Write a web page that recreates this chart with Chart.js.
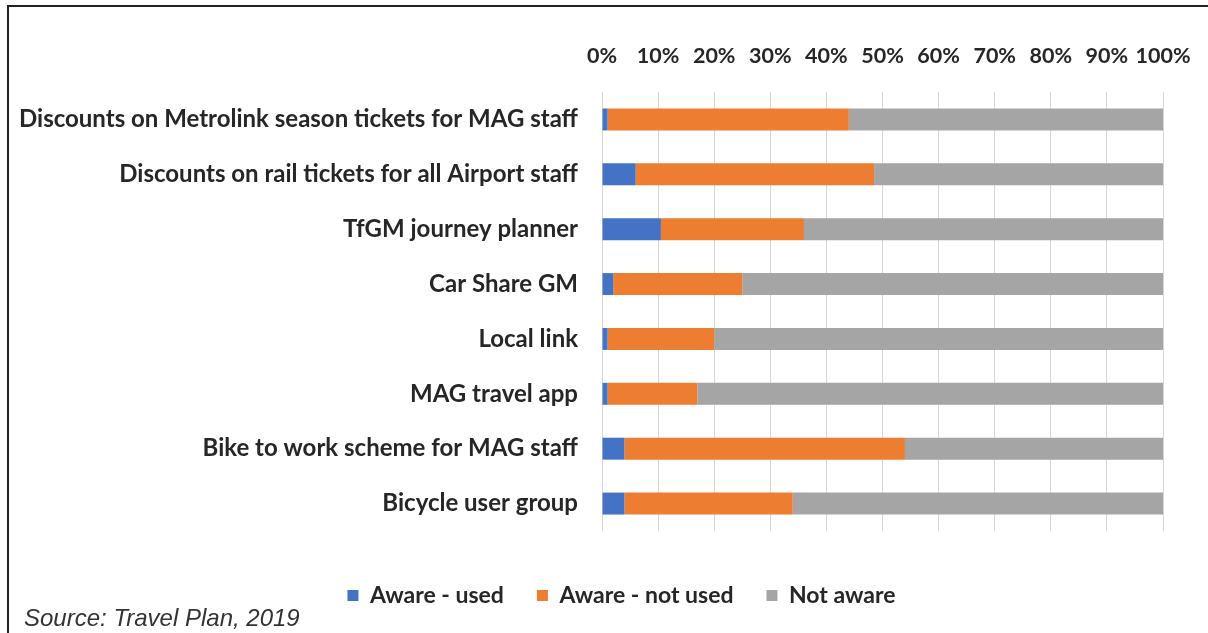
<!DOCTYPE html>
<html>
<head>
<meta charset="utf-8">
<script src="https://cdn.jsdelivr.net/npm/chart.js@4.4.1/dist/chart.umd.min.js"></script>
<style>
  html, body { margin: 0; padding: 0; background: #fff; }
  #wrap { position: relative; width: 1208px; height: 633px; overflow: hidden; background: #fff; }
  #c { position: absolute; left: 0; top: 0; }
  .line { position: absolute; background: #222; }
  #source { position: absolute; left: 24px; top: 606px; font: italic 24px "Liberation Sans", Arial, sans-serif; line-height: 1; color: #333; white-space: nowrap; }
</style>
</head>
<body>
<div id="wrap">
  <div class="line" style="left:7px;top:5px;width:1201px;height:2px;"></div>
  <div class="line" style="left:7px;top:5px;width:2px;height:628px;"></div>
  <canvas id="c" width="1208" height="633"></canvas>
  <div id="source">Source: Travel Plan, 2019</div>
</div>
<script>
const categories = [
  "Discounts on Metrolink season tickets for MAG staff",
  "Discounts on rail tickets for all Airport staff",
  "TfGM journey planner",
  "Car Share GM",
  "Local link",
  "MAG travel app",
  "Bike to work scheme for MAG staff",
  "Bicycle user group"
];
const awareUsed    = [1, 6, 10.5, 2, 1, 1, 4, 4];
const awareNotUsed = [43, 42.5, 25.5, 23, 19, 16, 50, 30];
const notAware     = [56, 51.5, 64, 75, 80, 83, 46, 66];
const tickValues = [0, 10, 20, 30, 40, 50, 60, 70, 80, 90, 100];

const TXT = '#262626';
Chart.defaults.font.family = 'Lato';
Chart.defaults.color = TXT;

// shift the legend so it is centred where the reference places it
const legendShift = {
  id: 'legendShift',
  afterLayout(chart) {
    const l = chart.legend;
    if (l) { l.left += 40; l.right += 40; }
  }
};

new Chart(document.getElementById('c'), {
  type: 'bar',
  data: {
    labels: categories,
    datasets: [
      { label: 'Aware - used', data: awareUsed, backgroundColor: '#4472C4' },
      { label: 'Aware - not used', data: awareNotUsed, backgroundColor: '#ED7D31' },
      { label: 'Not aware', data: notAware, backgroundColor: '#A5A5A5' }
    ]
  },
  plugins: [legendShift],
  options: {
    indexAxis: 'y',
    responsive: false,
    animation: false,
    devicePixelRatio: 1,
    layout: { padding: { top: 40, right: 45, bottom: 16, left: 0 } },
    datasets: { bar: { categoryPercentage: 0.8, barPercentage: 0.5 } },
    scales: {
      x: {
        position: 'top',
        stacked: true,
        min: 0, max: 100,
        afterBuildTicks: (s) => { s.ticks = tickValues.map(v => ({ value: v })); },
        afterFit: (s) => { s.height = 52; s.paddingRight = 0; s.paddingLeft = 0; },
        grid: { color: '#d6d6d6', drawTicks: false, lineWidth: 1 },
        border: { display: false },
        ticks: { padding: 23, autoSkip: false, maxRotation: 0, minRotation: 0, font: { size: 21.5, weight: 'bold' }, color: TXT, callback: (v) => v + '%' }
      },
      x2: {
        type: 'linear',
        position: 'bottom',
        display: true,
        grid: { display: false, drawTicks: false },
        border: { display: false },
        ticks: { display: false },
        afterFit: (s) => { s.height = 20; s.paddingRight = 0; s.paddingLeft = 0; }
      },
      y: {
        stacked: true,
        afterFit: (s) => { s.width = 602; },
        grid: { display: false, drawTicks: false },
        border: { display: false },
        ticks: { padding: 24, font: { size: 24, weight: 'bold' }, color: TXT }
      }
    },
    plugins: {
      legend: {
        position: 'bottom',
        labels: { boxWidth: 11, boxHeight: 11, padding: 33, font: { size: 23, weight: 'bold' }, color: TXT }
      },
      tooltip: { enabled: false }
    }
  }
});
</script>
</body>
</html>
